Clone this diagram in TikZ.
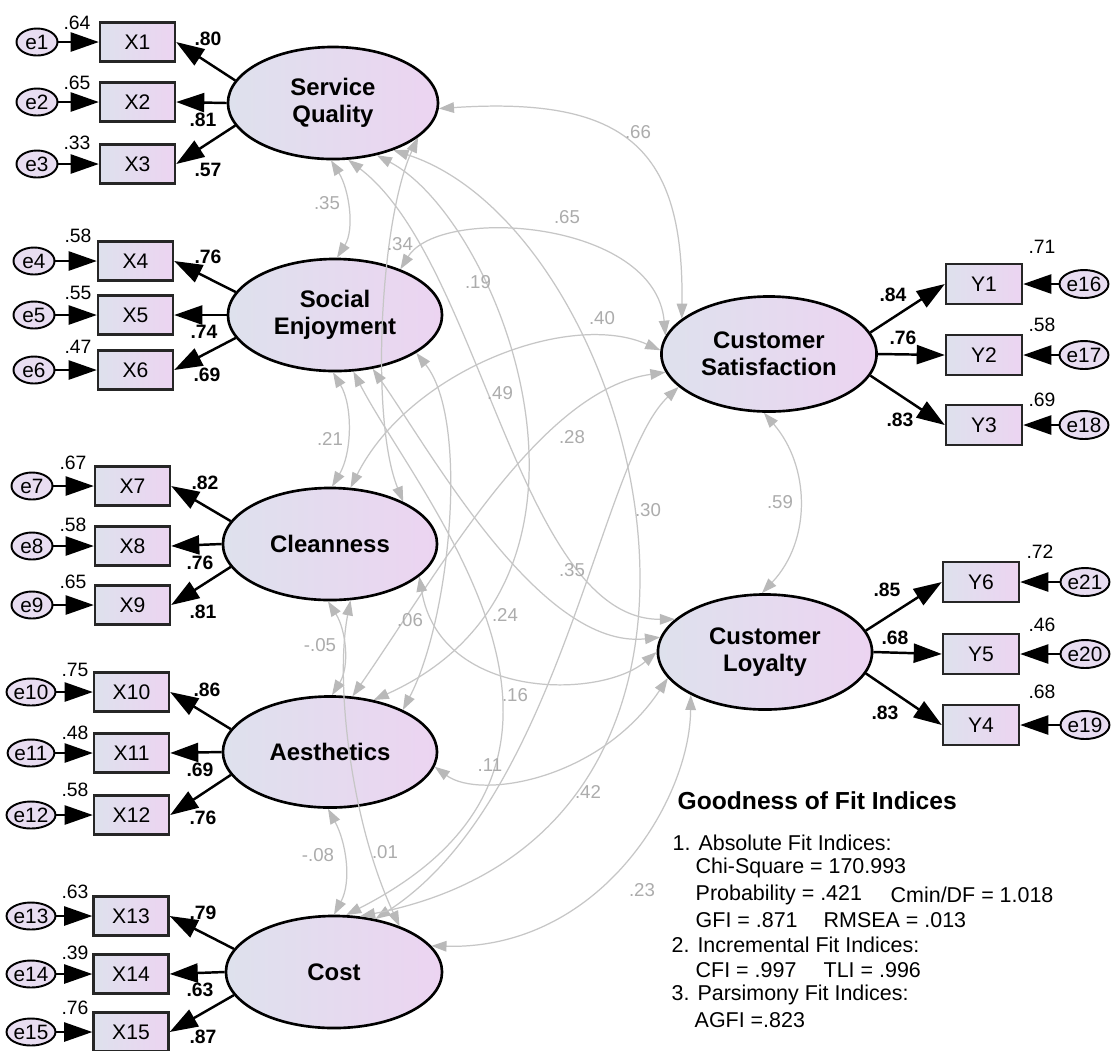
\documentclass[tikz,border=0pt]{standalone}
\usepackage{fontspec}
\setmainfont{Liberation Sans}
\usetikzlibrary{arrows.meta,shapes.geometric}
\definecolor{gl}{RGB}{222,225,237}
\definecolor{gr}{RGB}{236,212,241}
\definecolor{efill}{RGB}{232,221,241}
\definecolor{covline}{RGB}{198,198,198}
\definecolor{covhead}{RGB}{185,185,185}
\definecolor{covtext}{RGB}{172,172,172}
\tikzset{
  latent/.style={ellipse, draw=black, line width=0.75pt, left color=gl, right color=gr,
    inner sep=0pt, align=center, font=\fontsize{6.8}{7.6}\selectfont\bfseries},
  obs/.style={rectangle, draw=black!85, line width=0.65pt, left color=gl, right color=gr,
    minimum width=0.75cm, minimum height=0.39cm, inner sep=0pt, font=\fontsize{6}{7}\selectfont},
  errl/.style={ellipse, draw=black, line width=0.55pt, fill=efill,
    minimum width=0.41cm, minimum height=0.27cm, inner sep=0pt, font=\fontsize{5.9}{6}\selectfont},
  errr/.style={ellipse, draw=black, line width=0.55pt, fill=efill,
    minimum width=0.38cm, minimum height=0.28cm, inner sep=0pt, font=\fontsize{5.9}{6}\selectfont},
  load/.style={line width=0.7pt, -{Triangle[length=8pt,width=5.4pt]}},
  cov/.style={line width=0.35pt, draw=covline,
    {Triangle[length=4.3pt,width=3pt,color=covhead]}-{Triangle[length=4.3pt,width=3pt,color=covhead]}},
  varlab/.style={font=\fontsize{5.5}{6}\selectfont, inner sep=0pt},
  loadlab/.style={font=\fontsize{5.5}{6}\selectfont\bfseries, inner sep=0pt},
  covlab/.style={font=\fontsize{5.3}{6}\selectfont, text=covtext, inner sep=0pt},
  fittitle/.style={font=\fontsize{7}{8}\selectfont\bfseries, anchor=west, inner sep=0pt},
  fittext/.style={font=\fontsize{6.1}{7}\selectfont, anchor=west, inner sep=0pt}
}
\begin{document}
\begin{tikzpicture}[x=0.01cm,y=-0.01cm]
\useasboundingbox[fill=white] (0,0) rectangle (1111,1050);

% latent variables
\node[latent, minimum width=2.10cm, minimum height=1.12cm] (SQ) at (333,103) {Service\\Quality};
\node[latent, minimum width=2.14cm, minimum height=1.12cm] (SE) at (335,315) {Social\\Enjoyment};
\node[latent, minimum width=2.14cm, minimum height=1.12cm] (CL) at (330,544) {Cleanness};
\node[latent, minimum width=2.14cm, minimum height=1.11cm] (AE) at (330,752) {Aesthetics};
\node[latent, minimum width=2.16cm, minimum height=1.12cm] (CO) at (334,972) {Cost};
\node[latent, minimum width=2.15cm, minimum height=1.15cm] (CS) at (769,354) {Customer\\Satisfaction};
\node[latent, minimum width=2.14cm, minimum height=1.15cm] (CLo) at (765,652) {Customer\\Loyalty};

% left indicators and errors
\foreach \i/\ex/\bx/\y in {1/37/137.5/42, 2/37/137.5/102, 3/37/137.5/164,
  4/34/135.5/261, 5/34/135.5/315, 6/34/135.5/370,
  7/32/132.5/486, 8/32/132.5/546, 9/32/132.5/605,
  10/31/131.5/692, 11/31/131.5/753, 12/31/131.5/815,
  13/31/131/916, 14/31/131/974, 15/31/131/1032}{
  \node[errl] (e\i) at (\ex,\y) {e\i};
  \node[obs] (X\i) at (\bx,\y) {X\i};
  \draw[load] (e\i) -- (X\i);
}

% right indicators and errors
\foreach \i/\e/\bx/\ex/\y in {1/16/984/1084/284, 2/17/984/1084/355, 3/18/984/1084/425,
  6/21/981/1085/582, 5/20/981/1085/654, 4/19/981/1085/725}{
  \node[obs, minimum width=0.76cm, minimum height=0.40cm] (Y\i) at (\bx,\y) {Y\i};
  \node[errr] (e\e) at (\ex,\y) {e\e};
  \draw[load] (e\e) -- (Y\i);
}

% loadings
\draw[load] (SQ.167) -- (X1.east);
\draw[load] (SQ.180) -- (X2.east);
\draw[load] (SQ.-167) -- (X3.east);
\draw[load] (SE.167) -- (X4.east);
\draw[load] (SE.180) -- (X5.east);
\draw[load] (SE.-167) -- (X6.east);
\draw[load] (CL.167) -- (X7.east);
\draw[load] (CL.180) -- (X8.east);
\draw[load] (CL.-167) -- (X9.east);
\draw[load] (AE.167) -- (X10.east);
\draw[load] (AE.180) -- (X11.east);
\draw[load] (AE.-167) -- (X12.east);
\draw[load] (CO.167) -- (X13.east);
\draw[load] (CO.180) -- (X14.east);
\draw[load] (CO.-167) -- (X15.east);
\draw[load] (CS.12) -- (Y1.west);
\draw[load] (CS.0) -- (Y2.west);
\draw[load] (CS.-12) -- (Y3.west);
\draw[load] (CLo.12) -- (Y6.west);
\draw[load] (CLo.0) -- (Y5.west);
\draw[load] (CLo.-12) -- (Y4.west);

% variance labels (left)
\node[varlab] (v1) at (77,23) {.64};
\node[varlab] (v2) at (77,83) {.65};
\node[varlab] (v3) at (77,143) {.33};
\node[varlab] (v4) at (78,236) {.58};
\node[varlab] (v5) at (78,293) {.55};
\node[varlab] (v6) at (78,347) {.47};
\node[varlab] (v7) at (73,463) {.67};
\node[varlab] (v8) at (73,525) {.58};
\node[varlab] (v9) at (73,582) {.65};
\node[varlab] (v10) at (75,670) {.75};
\node[varlab] (v11) at (75,733) {.48};
\node[varlab] (v12) at (75,790) {.58};
\node[varlab] (v13) at (75,892) {.63};
\node[varlab] (v14) at (75,953) {.39};
\node[varlab] (v15) at (75,1008) {.76};
% variance labels (right)
\node[varlab] (w1) at (1042,247) {.71};
\node[varlab] (w2) at (1042,325) {.58};
\node[varlab] (w3) at (1042,400) {.69};
\node[varlab] (w6) at (1040,552) {.72};
\node[varlab] (w5) at (1042,625) {.46};
\node[varlab] (w4) at (1042,692) {.68};

% loading labels
\node[loadlab] (l1) at (208,39) {.80};
\node[loadlab] (l2) at (203,120) {.81};
\node[loadlab] (l3) at (208,170) {.57};
\node[loadlab] (l4) at (208,257) {.76};
\node[loadlab] (l5) at (204,332) {.74};
\node[loadlab] (l6) at (207,375) {.69};
\node[loadlab] (l7) at (205,483) {.82};
\node[loadlab] (l8) at (200,563) {.76};
\node[loadlab] (l9) at (203,612) {.81};
\node[loadlab] (l10) at (207,690) {.86};
\node[loadlab] (l11) at (200,770) {.69};
\node[loadlab] (l12) at (203,818) {.76};
\node[loadlab] (l13) at (203,913) {.79};
\node[loadlab] (l14) at (200,990) {.63};
\node[loadlab] (l15) at (203,1037) {.87};
\node[loadlab] (m1) at (893,295) {.84};
\node[loadlab] (m2) at (903,338) {.76};
\node[loadlab] (m3) at (900,420) {.83};
\node[loadlab] (m6) at (887,590) {.85};
\node[loadlab] (m5) at (895,638) {.68};
\node[loadlab] (m4) at (885,713) {.83};

% covariances
\draw[cov] (SQ.-92) .. controls (349,189) and (355,229) .. (SE.88);
\draw[cov] (SE.-92) .. controls (353,406) and (352,453) .. (CL.88);
\draw[cov] (CL.-92) .. controls (346,630) and (350,666) .. (AE.88);
\draw[cov] (AE.-92) .. controls (346,842) and (352,881) .. (CO.90);
\draw[cov] (CS.-95) .. controls (810,466) and (812,540) .. (CLo.93);
\draw[cov] (SQ.-3) .. controls (628,96) and (684,150) .. (CS.158);
\draw[cov] (SE.35) .. controls (440,205) and (655,220) .. (CS.170);
\draw[cov] (CL.70) .. controls (410,370) and (570,310) .. (CS.178);
\draw[cov] (AE.68) .. controls (440,570) and (540,390) .. (CS.-170);
\draw[cov] (CO.52) .. controls (560,800) and (600,460) .. (CS.-160);
\draw[cov] (SQ.-22) .. controls (380,220) and (370,420) .. (CL.30);
\draw[cov] (SQ.-50) .. controls (500,220) and (640,580) .. (AE.50);
\draw[cov] (SQ.-38) .. controls (640,230) and (800,830) .. (CO.65);
\draw[cov] (SQ.-75) .. controls (480,260) and (520,620) .. (CLo.160);
\draw[cov] (SE.-25) .. controls (470,420) and (450,620) .. (AE.30);
\draw[cov] (SE.-72) .. controls (420,500) and (650,760) .. (CO.78);
\draw[cov] (SE.-55) .. controls (430,450) and (540,650) .. (CLo.172);
\draw[cov] (CL.-70) .. controls (335,680) and (350,820) .. (CO.35);
\draw[cov] (CL.-20) .. controls (440,700) and (600,700) .. (CLo.180);
\draw[cov] (AE.-8) .. controls (480,800) and (600,780) .. (CLo.-165);
\draw[cov] (CO.15) .. controls (600,950) and (690,800) .. (CLo.-150);

% covariance labels
\node[covlab] (c1) at (638,132) {.66};
\node[covlab] (c2) at (327,203) {.35};
\node[covlab] (c3) at (400,244) {.34};
\node[covlab] (c4) at (567,217) {.65};
\node[covlab] (c5) at (478,282) {.19};
\node[covlab] (c6) at (602,318) {.40};
\node[covlab] (c7) at (500,393) {.49};
\node[covlab] (c8) at (330,439) {.21};
\node[covlab] (c9) at (572,437) {.28};
\node[covlab] (c10) at (648,510) {.30};
\node[covlab] (c11) at (780,502) {.59};
\node[covlab] (c12) at (572,570) {.35};
\node[covlab] (c13) at (410,620) {.06};
\node[covlab] (c14) at (505,615) {.24};
\node[covlab] (c15) at (320,645) {-.05};
\node[covlab] (c16) at (515,695) {.16};
\node[covlab] (c17) at (490,765) {.11};
\node[covlab] (c18) at (588,792) {.42};
\node[covlab] (c19) at (385,852) {.01};
\node[covlab] (c20) at (318,855) {-.08};
\node[covlab] (c21) at (642,890) {.23};

% fit indices
\node[fittitle] (ft) at (677,801) {Goodness of Fit Indices};
\node[fittext] (f1) at (672,843) {1. Absolute Fit Indices:};
\node[fittext] (f2) at (695,868) {Chi-Square = 170.993};
\node[fittext] (f3) at (695,895) {Probability = .421};
\node[fittext] (f3b) at (890,895) {Cmin/DF = 1.018};
\node[fittext] (f4) at (695,920) {GFI = .871};
\node[fittext] (f4b) at (823,920) {RMSEA = .013};
\node[fittext] (f5) at (671,945) {2. Incremental Fit Indices:};
\node[fittext] (f6) at (695,970) {CFI = .997};
\node[fittext] (f6b) at (823,970) {TLI = .996};
\node[fittext] (f7) at (671,995) {3. Parsimony Fit Indices:};
\node[fittext] (f8) at (694,1020) {AGFI =.823};
\end{tikzpicture}
\end{document}
